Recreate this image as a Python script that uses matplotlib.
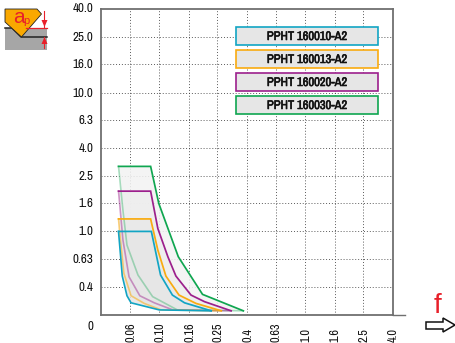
import matplotlib
matplotlib.use("Agg")
import matplotlib.pyplot as plt
import matplotlib.patheffects as pe
from matplotlib import font_manager as fm
from matplotlib.patches import Polygon, Rectangle

names = sorted({f.name for f in fm.fontManager.ttflist})
cond = [n for n in names if "condensed" in n.lower() or "narrow" in n.lower()]
COND = cond[0] if cond else "Liberation Sans"
IS_COND = bool(cond)
TICK_FS = 9.4 if IS_COND else 8.0
XT_FS = 8.8 if IS_COND else 7.6
LEG_FS = 9.0 if IS_COND else 7.5

x_ticks = [0.063, 0.10, 0.16, 0.25, 0.4, 0.63, 1.0, 1.6, 2.5, 4.0]
x_labels = ["0.06", "0.10", "0.16", "0.25", "0.4", "0.63", "1.0", "1.6", "2.5", "4.0"]
y_ticks = [0.4, 0.63, 1.0, 1.6, 2.5, 4.0, 6.3, 10.0, 16.0, 25.0, 40.0]
y_labels = ["0.4", "0.63", "1.0", "1.6", "2.5", "4.0", "6.3", "10.0", "16.0", "25.0", "40.0"]

names_series = ["PPHT 160010-A2", "PPHT 160013-A2", "PPHT 160020-A2", "PPHT 160030-A2"]
colors = ["#12A5C4", "#F9AB10", "#9C1F8C", "#0FA650"]

blue_x = [0.0525, 0.0882, 0.102, 0.123, 0.149, 0.227]
blue_y = [1.0, 1.0, 0.485, 0.348, 0.306, 0.268]
blue_in_x = [0.227, 0.100, 0.064, 0.060, 0.0557, 0.0525]
blue_in_y = [0.268, 0.272, 0.306, 0.344, 0.477, 1.0]

orange_x = [0.0525, 0.0872, 0.0977, 0.111, 0.1365, 0.1785, 0.266]
orange_y = [1.23, 1.23, 0.734, 0.477, 0.348, 0.303, 0.268]
orange_in_x = [0.266, 0.103, 0.0788, 0.064, 0.0571, 0.0533, 0.0525]
orange_in_y = [0.268, 0.272, 0.303, 0.344, 0.50, 1.02, 1.23]

purple_x = [0.0525, 0.0872, 0.0977, 0.1145, 0.130, 0.165, 0.204, 0.311]
purple_y = [1.95, 1.95, 1.05, 0.657, 0.477, 0.348, 0.312, 0.268]
purple_in_x = [0.311, 0.124, 0.0924, 0.0735, 0.062, 0.0563, 0.0525]
purple_in_y = [0.268, 0.272, 0.306, 0.344, 0.471, 0.866, 1.95]

green_x = [0.0525, 0.0872, 0.0992, 0.135, 0.198, 0.377]
green_y = [2.94, 2.94, 1.59, 0.657, 0.352, 0.268]
green_in_x = [0.377, 0.133, 0.090, 0.0714, 0.060, 0.0563, 0.0525]
green_in_y = [0.268, 0.272, 0.339, 0.485, 0.797, 1.42, 2.94]

W, H = 456, 343
fig = plt.figure(figsize=(W / 100, H / 100), dpi=100, facecolor="white")
L, R, T, B = 101.3, 392.8, 9, 315
ax = fig.add_axes([L / W, 1 - B / H, (R - L) / W, (B - T) / H])
ax.set_xscale("log")
ax.set_yscale("log")
ax.set_xlim(0.04, 4.0)
ax.set_ylim(0.25, 40.0)
ax.minorticks_off()
ax.set_xticks(x_ticks[:-1], x_labels[:-1])
ax.set_yticks(y_ticks[:-1], y_labels[:-1])
ax.tick_params(length=0, pad=0)
ax.set_xticklabels([])
ax.set_yticklabels([])
ax.grid(True, color="#333333", lw=0.7, ls=(0, (1, 2)), alpha=0.8)
ax.set_axisbelow(True)
for s in ax.spines.values():
    s.set_color("#707070")
    s.set_linewidth(1.3)

series = [
    (green_x, green_y, green_in_x, green_in_y, colors[3], 0.35),
    (purple_x, purple_y, purple_in_x, purple_in_y, colors[2], 0.45),
    (orange_x, orange_y, orange_in_x, orange_in_y, colors[1], 0.55),
    (blue_x, blue_y, blue_in_x, blue_in_y, colors[0], 1.0),
]
fills = ["#f3f3f3", "#eeeeee", "#e9e9e9", "#e6e6e6"]
for (ox, oy, ix, iy, c, a), fc in zip(series, fills):
    ax.add_patch(Polygon(list(zip(ox + ix, oy + iy)), closed=True, fc=fc, ec="none", zorder=1.5, alpha=0.85))
for ox, oy, ix, iy, c, a in series:
    ax.plot(ix, iy, color=c, lw=1.2, alpha=a, zorder=3, solid_joinstyle="miter")
    ax.plot(ox, oy, color=c, lw=1.25, zorder=4, solid_joinstyle="miter", clip_on=False)

ov = fig.add_axes([0, 0, 1, 1], facecolor="none")
ov.set_xlim(0, W)
ov.set_ylim(H, 0)
ov.axis("off")

ov.plot([R, 405], [B, B], color="#707070", lw=1.0)

for xv, lab in zip(x_ticks, x_labels):
    px = ax.transData.transform((xv, 1))[0]
    ov.text(px + 0.5, 342.5, lab, rotation=90, ha="center", va="bottom",
            family=COND, fontsize=XT_FS, color="#111111")
ov.text(93.5, 9, "40.0", ha="right", va="center", family=COND, fontsize=TICK_FS, color="#111111")
for yv, lab in zip(y_ticks[:-1], y_labels[:-1]):
    py = H - ax.transData.transform((1, yv))[1]
    ov.text(93.5, py + 0.5, lab, ha="right", va="center", family=COND, fontsize=TICK_FS, color="#111111")
ov.text(90, 327, "0", ha="center", va="center", family=COND, fontsize=TICK_FS, color="#111111")

bold = [pe.withStroke(linewidth=0.4, foreground="#111111")]
for nm, c, y0 in zip(names_series, colors, [27, 50, 73, 96]):
    ov.add_patch(Rectangle((236, y0), 142, 18, fc="#e6e6e6", ec=c, lw=1.2, zorder=6))
    ov.text(307, y0 + 9.5, nm, ha="center", va="center", family=COND,
            fontsize=LEG_FS, color="#111111", zorder=7, path_effects=bold)

ov.add_patch(Rectangle((5, 28), 42, 22, fc="#a6a6a6", ec="none"))
ov.plot([5, 12, 21, 47], [28, 28, 37, 37], color="#222222", lw=1.1)
ov.add_patch(Polygon([(5, 9), (37, 9), (41.5, 14), (21.5, 37), (5, 22)], closed=True,
                     fc="#F9A800", ec="#222222", lw=0.6, zorder=3))
ov.plot([26, 47], [28, 28], color="#E8202A", lw=0.9, zorder=4)
ov.plot([44.5, 44.5], [11, 27], color="#E8202A", lw=0.8, zorder=4)
ov.plot([44.5, 44.5], [37, 48], color="#E8202A", lw=0.8, zorder=4)
ov.add_patch(Polygon([(41.5, 20), (47.5, 20), (44.5, 27)], closed=True, fc="#E8202A", ec="none", zorder=4))
ov.add_patch(Polygon([(41.5, 44), (47.5, 44), (44.5, 37)], closed=True, fc="#E8202A", ec="none", zorder=4))
ov.text(13, 17.5, "a", color="#E8202A", fontsize=15, ha="left", va="center", family="Liberation Sans", zorder=5)
ov.text(23.5, 21, "p", color="#E8202A", fontsize=8, ha="left", va="center", family="Liberation Sans", zorder=5)

ov.text(438, 306, "f", color="#E8202A", fontsize=20, ha="center", va="center", family="Liberation Sans")
ov.add_patch(Polygon([(426, 322), (443, 322), (443, 318), (455, 325), (443, 332), (443, 329), (426, 329)],
                     closed=True, fc="white", ec="#111111", lw=1.1))

fig.savefig("out.png", dpi=100)
